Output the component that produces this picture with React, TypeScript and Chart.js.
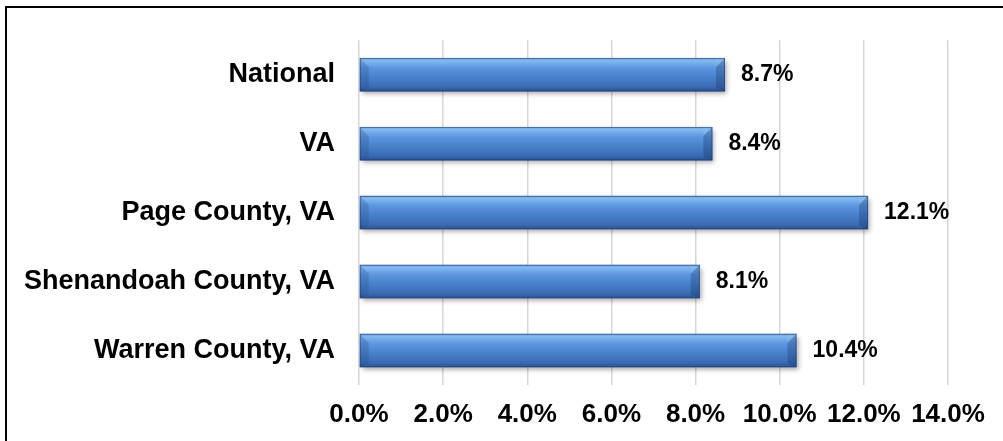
import React, { useEffect, useRef } from 'react';
import { Chart, registerables } from 'chart.js';

Chart.register(...registerables);

const categories = ['National', 'VA', 'Page County, VA', 'Shenandoah County, VA', 'Warren County, VA'];
const values = [8.7, 8.4, 12.1, 8.1, 10.4];
const xMin = 0;
const xMax = 14;
const xStep = 2;

const FONT = '"Liberation Sans", Arial, Helvetica, sans-serif';

const effectsPlugin = {
  id: 'barEffects',
  beforeDatasetsDraw(chart: any) {
    const c = chart.ctx;
    const meta = chart.getDatasetMeta(0);
    meta.data.forEach((el: any) => {
      const { y, height } = el.getProps(['y', 'height'], true);
      if (!isFinite(y) || !isFinite(height)) return;
      const h = height / 2;
      const g = c.createLinearGradient(0, y - h, 0, y + h);
      g.addColorStop(0, '#6a9bdc');
      g.addColorStop(0.08, '#84b9f0');
      g.addColorStop(0.3, '#5b96df');
      g.addColorStop(0.55, '#4a83cd');
      g.addColorStop(0.85, '#3b6cb5');
      g.addColorStop(1, '#2a5290');
      el.options = Object.assign({}, el.options, { backgroundColor: g });
    });
    c.save();
    c.shadowColor = 'rgba(0,0,0,0.35)';
    c.shadowBlur = 5;
    c.shadowOffsetX = 2;
    c.shadowOffsetY = 3;
  },
  afterDatasetsDraw(chart: any) {
    const c = chart.ctx;
    c.restore();
    const meta = chart.getDatasetMeta(0);
    meta.data.forEach((el: any, i: number) => {
      const { x, y, base, height } = el.getProps(['x', 'y', 'base', 'height'], true);
      const left = Math.min(x, base);
      const right = Math.max(x, base);
      const top = y - height / 2;
      const bottom = y + height / 2;
      const b = 9;
      c.save();
      // left bevel (darker triangle-ish facet)
      c.beginPath();
      c.moveTo(left, top);
      c.lineTo(left + b, top + b);
      c.lineTo(left + b, bottom - 4);
      c.lineTo(left, bottom);
      c.closePath();
      c.fillStyle = 'rgba(30,70,130,0.25)';
      c.fill();
      // right bevel: lighter top triangle, darker strip
      c.beginPath();
      c.moveTo(right, top);
      c.lineTo(right - b, top + b);
      c.lineTo(right - b, bottom - 4);
      c.lineTo(right, bottom);
      c.closePath();
      c.fillStyle = 'rgba(20,50,100,0.30)';
      c.fill();
      c.beginPath();
      c.moveTo(right - b, top);
      c.lineTo(right, top);
      c.lineTo(right - b, top + b);
      c.closePath();
      c.fillStyle = 'rgba(140,190,240,0.35)';
      c.fill();
      c.strokeStyle = 'rgba(30,60,110,0.55)';
      c.lineWidth = 1;
      c.strokeRect(left + 0.5, top + 0.5, right - left - 1, bottom - top - 1);
      c.restore();

      c.save();
      c.font = `bold 23px ${FONT}`;
      c.fillStyle = '#000';
      c.textAlign = 'left';
      c.textBaseline = 'middle';
      c.fillText(values[i].toFixed(1) + '%', right + 16, y);
      c.restore();
    });
  },
};

export default function App() {
  const ref = useRef<HTMLCanvasElement>(null);

  useEffect(() => {
    const chart = new Chart(ref.current as HTMLCanvasElement, {
      type: 'bar',
      data: {
        labels: categories,
        datasets: [
          {
            data: values,
            barPercentage: 0.486,
            categoryPercentage: 1,
            borderWidth: 0,
            backgroundColor: () => '#4a83cd',
          } as any,
        ],
      },
      options: {
        indexAxis: 'y',
        responsive: false,
        animation: false,
        devicePixelRatio: 1,
        layout: { padding: { left: 0, right: 55, top: 35, bottom: 0 } },
        plugins: {
          legend: { display: false },
          tooltip: { enabled: false },
          title: { display: false },
        },
        scales: {
          x: {
            min: xMin,
            max: xMax,
            ticks: {
              stepSize: xStep,
              padding: 14,
              color: '#000',
              font: { family: FONT, size: 26, weight: 'bold' },
              callback: (v: any) => Number(v).toFixed(1) + '%',
              maxRotation: 0,
            },
            grid: { color: '#d6d6d6', lineWidth: 1.5, drawTicks: false },
            border: { display: false },
            afterFit: (scale: any) => {
              scale.height = 56;
            },
          },
          y: {
            ticks: {
              padding: 24,
              color: '#000',
              font: { family: FONT, size: 27, weight: 'bold' },
            },
            grid: { display: false, drawTicks: false },
            border: { display: false },
            afterFit: (scale: any) => {
              scale.width = 359;
            },
          },
        },
      },
      plugins: [effectsPlugin],
    } as any);
    return () => chart.destroy();
  }, []);

  return (
    <div
      style={{
        position: 'fixed',
        left: 0,
        top: 0,
        width: 1003,
        height: 441,
        overflow: 'hidden',
        background: '#fff',
      }}
    >
      <canvas
        ref={ref}
        width={1003}
        height={441}
        style={{ position: 'absolute', left: 0, top: 0, width: 1003, height: 441 }}
      />
      <div
        style={{
          position: 'absolute',
          left: 5,
          top: 6,
          width: 1100,
          height: 500,
          border: '2.5px solid #000',
          pointerEvents: 'none',
        }}
      />
    </div>
  );
}
